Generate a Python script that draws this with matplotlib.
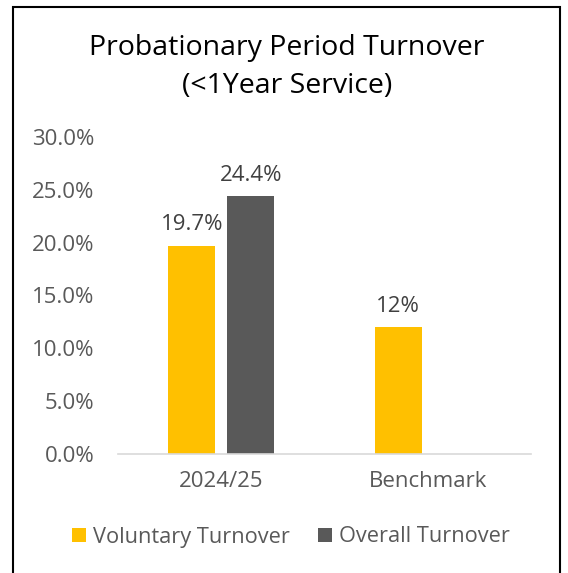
import matplotlib.pyplot as plt
from matplotlib.patches import Rectangle
import numpy as np

categories = ["2024/25", "Benchmark"]
voluntary = [0.197, 0.12]
overall = [0.244, None]
voluntary_labels = ["19.7%", "12%"]
overall_labels = ["24.4%", ""]
yticks = [0.0, 0.05, 0.10, 0.15, 0.20, 0.25, 0.30]

plt.rcParams['font.family'] = ['Open Sans', 'DejaVu Sans']

fig = plt.figure(figsize=(5.68, 5.73), dpi=100)
ax = fig.add_axes([0.2077, 0.2077, 0.935 - 0.2077, 0.761 - 0.2077])

# frame around the whole chart
fig.patches.append(Rectangle((13 / 568, -0.05), (560 - 13) / 568, 1.05 - 7 / 573,
                             transform=fig.transFigure, fill=False,
                             edgecolor='black', linewidth=1.5))

x = np.arange(len(categories))
w = 0.228
off = 0.143
yellow = '#FFC000'
grey = '#595959'

ax.bar(x - off, voluntary, w, color=yellow, label='Voluntary Turnover')
ov_x = [xi + off for xi, v in zip(x, overall) if v is not None]
ov_v = [v for v in overall if v is not None]
ax.bar(ov_x, ov_v, w, color=grey, label='Overall Turnover')

for xi, v, lab in zip(x, voluntary, voluntary_labels):
    ax.text(xi - off, v + 0.01, lab, ha='center', va='bottom', fontsize=16, color='#404040')
for xi, v, lab in zip(x, overall, overall_labels):
    if v is not None:
        ax.text(xi + off, v + 0.01, lab, ha='center', va='bottom', fontsize=16, color='#404040')

ax.set_xlim(-0.5, 1.5)
ax.set_ylim(0, 0.30)
ax.set_yticks(yticks)
ax.set_yticklabels([f"{t*100:.1f}%" for t in yticks])
ax.set_xticks(x)
ax.set_xticklabels(categories)
ax.tick_params(axis='y', length=0, pad=17, labelsize=16, labelcolor='#595959')
ax.tick_params(axis='x', length=0, pad=12, labelsize=16, labelcolor='#595959')

for s in ['top', 'right', 'left']:
    ax.spines[s].set_visible(False)
ax.spines['bottom'].set_color('#D9D9D9')
ax.spines['bottom'].set_linewidth(1.2)

fig.text(287 / 568, 1 - 67 / 573, "Probationary Period Turnover\n(<1Year Service)",
         ha='center', va='center', fontsize=20.5, color='black', linespacing=1.45)

fig.legend(loc='center', bbox_to_anchor=(291 / 568, 1 - 537 / 573), ncol=2, frameon=False,
           fontsize=15.7, labelcolor='#595959', handlelength=0.65, handleheight=0.65,
           handletextpad=0.3, columnspacing=1.3)

fig.savefig('out.png', dpi=100)
